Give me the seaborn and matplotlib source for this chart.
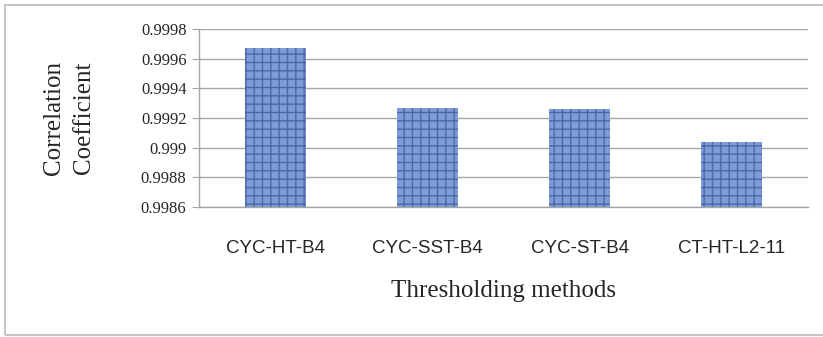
import matplotlib
matplotlib.use("Agg")
import matplotlib.pyplot as plt
from matplotlib.patches import Rectangle
import seaborn as sns
import pandas as pd

# values
methods = ["CYC-HT-B4", "CYC-SST-B4", "CYC-ST-B4", "CT-HT-L2-11"]
corr = [0.99967, 0.99927, 0.99926, 0.99904]
yticks = [0.9986, 0.9988, 0.999, 0.9992, 0.9994, 0.9996, 0.9998]
ytick_labels = ["0.9986", "0.9988", "0.999", "0.9992", "0.9994", "0.9996", "0.9998"]

df = pd.DataFrame({"method": methods, "corr": corr})

sns.set_style("white")
plt.rcParams["hatch.linewidth"] = 1.0

W, H = 823, 337
fig = plt.figure(figsize=(W / 100, H / 100), dpi=100)
ax = fig.add_axes([199 / W, 1 - 207 / H, (808 - 199) / W, (207 - 29) / H])

sns.barplot(data=df, x="method", y="corr", width=0.4, ax=ax,
            color="#7e9bd6", saturation=1)
for bar in ax.patches:
    bar.set_hatch("++")
    bar.set_edgecolor("#4a68a8")
    bar.set_linewidth(0)

ax.set_ylim(0.9986, 0.9998)
ax.set_yticks(yticks)
ax.set_yticklabels(ytick_labels, family="Liberation Serif", fontsize=12)
ax.yaxis.grid(True, color="#a6a6a6", linewidth=1)
ax.set_axisbelow(True)
ax.tick_params(axis="y", length=5, color="#a6a6a6", pad=4, left=True)
ax.tick_params(axis="x", length=0, pad=24)
for lab in ax.get_xticklabels():
    lab.set_family("Liberation Sans")
    lab.set_fontsize(13.5)

for s in ["top", "right"]:
    ax.spines[s].set_visible(False)
for s in ["left", "bottom"]:
    ax.spines[s].set_color("#a6a6a6")
    ax.spines[s].set_linewidth(1)

ax.set_xlabel("Thresholding methods", family="Liberation Serif", fontsize=18, labelpad=16)
ax.set_ylabel("Correlation\nCoefficient", family="Liberation Serif", fontsize=18,
              linespacing=1.45)
ax.yaxis.set_label_coords(-(199 - 95) / (808 - 199), 0.5)

# outer chart border
fig.patches.append(Rectangle((5 / W, 2 / H), 1.0, 1 - 7 / H, transform=fig.transFigure,
                             fill=False, edgecolor="#c6c6c6", linewidth=1.5))

fig.savefig("out.png", dpi=100)
